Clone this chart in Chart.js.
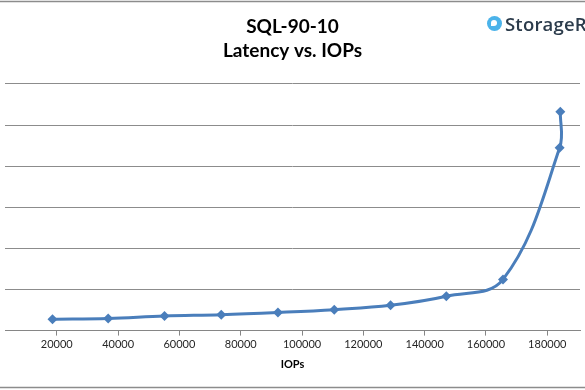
<!DOCTYPE html>
<html>
<head>
<meta charset="utf-8">
<script src="https://cdn.jsdelivr.net/npm/chart.js@4.4.1/dist/chart.umd.min.js"></script>
<style>
  html, body { margin: 0; padding: 0; background: #fff; }
  #wrap { position: relative; width: 585px; height: 390px; overflow: hidden; }
  #logo { position: absolute; left: 487px; top: 13px; height: 20px; display: flex; align-items: center;
          font-family: "Open Sans", sans-serif; font-size: 18.5px; font-weight: 600; color: #2b3b4b; white-space: nowrap; letter-spacing: 0.2px; }
  #logo .ic { width: 15px; height: 15px; border-radius: 50%; background: #4bb3ea; position: relative; margin-right: 3px; }
  #logo .ic:after { content: ""; position: absolute; left: 4px; top: 4px; width: 6px; height: 6px;
                    border-radius: 50% 50% 50% 0; background: #fff; }
</style>
</head>
<body>
<div id="wrap">
  <canvas id="grafico" width="585" height="390"></canvas>
  <div id="logo"><span class="ic"></span>StorageR</div>
</div>
<script>
// IOPs (x) e latencia (y, ms)
var iops = [18590, 36770, 55140, 73640, 92140, 110520, 128890, 147070, 165570, 184040, 184260]
var latencia = [0.55, 0.59, 0.71, 0.77, 0.88, 1.02, 1.23, 1.67, 2.49, 8.89, 10.65]
var xTicks = [20000, 40000, 60000, 80000, 100000, 120000, 140000, 160000, 180000]

var pontos = iops.map(function (v, i) { return { x: v, y: latencia[i] } })

// linhas de borda em cima e embaixo
var borda = {
    id: 'borda',
    afterDraw: function (chart) {
        var ctx = chart.ctx
        ctx.save()
        ctx.strokeStyle = '#8c8c8c'
        ctx.lineWidth = 1.5
        ctx.beginPath()
        ctx.moveTo(0, 1.5); ctx.lineTo(chart.width, 1.5)
        ctx.moveTo(0, 387.5); ctx.lineTo(chart.width, 387.5)
        ctx.stroke()
        ctx.restore()
    }
}

new Chart(document.getElementById('grafico'), {
    type: 'scatter',
    data: {
        datasets: [{
            label: 'SQL-90-10',
            data: pontos,
            showLine: true,
            tension: 0.38,
            borderColor: '#4a7ebb',
            backgroundColor: '#4a7ebb',
            borderWidth: 3,
            pointStyle: 'rectRot',
            pointRadius: 5,
            pointBorderWidth: 0,
            clip: false
        }]
    },
    options: {
        responsive: false,
        animation: false,
        layout: { padding: { left: 0, right: 0, top: 0, bottom: 19 } },
        plugins: {
            legend: { display: false },
            tooltip: { enabled: false },
            title: {
                display: true,
                text: ['SQL-90-10', 'Latency vs. IOPs'],
                color: '#000',
                font: { family: 'Lato', size: 19, weight: 'bold', lineHeight: 1.26 },
                padding: { top: 15, bottom: 21 }
            }
        },
        scales: {
            x: {
                type: 'linear',
                min: 3100,
                max: 190680,
                afterBuildTicks: function (scale) {
                    scale.ticks = xTicks.map(function (v) { return { value: v } })
                },
                grid: { drawOnChartArea: false, drawTicks: true, tickLength: 5, color: '#868686' },
                border: { color: '#868686', width: 1 },
                ticks: {
                    color: '#262626',
                    font: { family: 'Lato', size: 11 },
                    padding: 2,
                    maxRotation: 0,
                    autoSkip: false,
                    callback: function (v) { return String(v) }
                },
                title: {
                    display: true,
                    text: 'IOPs',
                    color: '#000',
                    font: { family: 'Lato', size: 11, weight: 'bold' },
                    padding: { top: 5, bottom: 0 }
                }
            },
            y: {
                min: 0,
                max: 12,
                ticks: { display: false, stepSize: 2 },
                grid: { color: '#8c8c8c', drawTicks: false },
                border: { display: false }
            }
        }
    },
    plugins: [borda]
})
</script>
</body>
</html>
